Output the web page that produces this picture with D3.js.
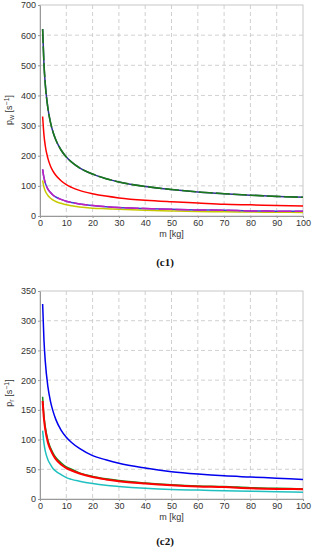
<!DOCTYPE html>
<html>
<head>
<meta charset="utf-8">
<script src="https://cdn.jsdelivr.net/npm/d3@7/dist/d3.min.js"></script>
<style>
  body { margin: 0; background: #fff; }
  svg { display: block; font-family: "Liberation Sans", Arial, sans-serif; }
</style>
</head>
<body>
<svg id="chart" width="315" height="550"></svg>
<script>
const mass = [1, 1.5, 2, 3, 4, 5, 6, 8, 10, 12, 15, 20, 25, 30, 40, 50, 60, 70, 80, 90, 100];
const xTicks = [0, 10, 20, 30, 40, 50, 60, 70, 80, 90, 100];

// (c1) p_w
const c1Green = [620, 506, 438, 358, 310, 277, 253, 219, 196, 179, 160, 139, 124, 113, 98, 88, 80, 74, 69, 65, 62];
const c1Red = [330, 269, 233, 191, 165, 148, 135, 117, 104, 95, 85, 74, 66, 60, 52, 47, 43, 39, 37, 35, 33];
const c1Magenta = [155, 127, 110, 89, 78, 69, 63, 55, 49, 45, 40, 35, 31, 28, 25, 22, 20, 19, 17, 16, 15.5];
const c1Yellow = [118, 96, 83, 68, 59, 53, 48, 42, 37, 34, 30, 26, 24, 22, 19, 17, 15, 14, 13, 12.5, 12];
const c1YTicks = [0, 100, 200, 300, 400, 500, 600, 700];

// (c2) p_r
const c2Blue = [328, 268, 232, 189, 164, 147, 134, 116, 104, 95, 85, 73, 66, 60, 52, 46, 42, 39, 37, 35, 33];
const c2Green = [172, 140, 122, 99, 86, 77, 70, 61, 54, 50, 44, 38, 34, 31, 27, 24, 22, 21, 19, 18, 17];
const c2Red = [165, 135, 117, 95, 83, 74, 67, 58, 52, 48, 43, 37, 33, 30, 26, 23, 21, 20, 18, 17, 16.5];
const c2Cyan = [115, 94, 81, 66, 58, 51, 47, 41, 36, 33, 30, 26, 23, 21, 18, 16, 15, 14, 13, 12, 11.5];
const c2YTicks = [0, 50, 100, 150, 200, 250, 300, 350];

const svg = d3.select("#chart");

function drawPanel(opts) {
  const left = 40, right = 303;
  const x = d3.scaleLinear().domain([0, 100]).range([left, right]);
  const y = d3.scaleLinear().domain([0, opts.yMax]).range([opts.bottom, opts.top]);

  const g = svg.append("g");

  // dashed grid
  g.selectAll(".vgrid")
    .data(xTicks.slice(1, -1))
    .enter()
    .append("line")
    .attr("x1", (d) => x(d))
    .attr("x2", (d) => x(d))
    .attr("y1", opts.top)
    .attr("y2", opts.bottom)
    .attr("stroke", "#c4c4c4")
    .attr("stroke-width", 0.8)
    .attr("stroke-dasharray", "4,3");

  g.selectAll(".hgrid")
    .data(opts.yTicks.slice(1, -1))
    .enter()
    .append("line")
    .attr("x1", left)
    .attr("x2", right)
    .attr("y1", (d) => y(d))
    .attr("y2", (d) => y(d))
    .attr("stroke", "#c4c4c4")
    .attr("stroke-width", 0.8)
    .attr("stroke-dasharray", "4,3");

  // frame
  g.append("rect")
    .attr("x", left)
    .attr("y", opts.top)
    .attr("width", right - left)
    .attr("height", opts.bottom - opts.top)
    .attr("fill", "none")
    .attr("stroke", "#c8c8c8")
    .attr("stroke-width", 1);

  // axes
  const xAxis = d3.axisBottom(x).tickValues(xTicks).tickSize(2).tickSizeOuter(0);
  const gx = g.append("g")
    .attr("transform", `translate(0,${opts.bottom})`)
    .call(xAxis);
  gx.select(".domain").attr("stroke", "#999");
  gx.selectAll(".tick line").attr("stroke", "#999");
  gx.selectAll("text")
    .attr("y", 4)
    .attr("fill", "#333")
    .style("font-size", "9px");

  const yAxis = d3.axisLeft(y).tickValues(opts.yTicks).tickSize(2).tickSizeOuter(0);
  const gy = g.append("g")
    .attr("transform", `translate(${left},0)`)
    .call(yAxis);
  gy.select(".domain").attr("stroke", "#999");
  gy.selectAll(".tick line").attr("stroke", "#999");
  gy.selectAll("text")
    .attr("x", -4)
    .attr("fill", "#333")
    .style("font-size", "9px");

  // curves
  const line = d3.line()
    .x((d, i) => x(mass[i]))
    .y((d) => y(d))
    .curve(d3.curveMonotoneX);

  opts.series.forEach(function (s) {
    g.append("path")
      .datum(s.values)
      .attr("d", line)
      .attr("fill", "none")
      .attr("stroke", s.color)
      .attr("stroke-width", s.width || 1.5)
      .attr("stroke-dasharray", s.dash || null);
  });

  // x label
  g.append("text")
    .attr("x", (left + right) / 2)
    .attr("y", opts.bottom + 21)
    .attr("text-anchor", "middle")
    .attr("fill", "#333")
    .style("font-size", "9px")
    .text("m [kg]");

  // y label with subscript and superscript
  const yl = g.append("text")
    .attr("transform", `translate(12,${opts.labelY}) rotate(-90)`)
    .attr("text-anchor", "middle")
    .attr("fill", "#333")
    .style("font-size", "9px");
  yl.append("tspan").text("p");
  yl.append("tspan").attr("dy", 2).style("font-size", "7px").text(opts.sub);
  yl.append("tspan").attr("dy", -2).text(" [s");
  yl.append("tspan").attr("dy", -3).style("font-size", "7px").text("\u22121");
  yl.append("tspan").attr("dy", 3).text("]");

  // panel caption
  svg.append("text")
    .attr("x", 165)
    .attr("y", opts.captionY)
    .attr("text-anchor", "middle")
    .attr("fill", "#111")
    .style("font-family", "'Liberation Serif', 'Times New Roman', serif")
    .style("font-size", "11px")
    .style("font-weight", "bold")
    .text(opts.caption);
}

drawPanel({
  top: 5,
  bottom: 216,
  yMax: 700,
  yTicks: c1YTicks,
  sub: "w",
  labelY: 110,
  caption: "(c1)",
  captionY: 266,
  series: [
    { values: c1Yellow, color: "#c8c800" },
    { values: c1Magenta, color: "#4040d0" },
    { values: c1Magenta, color: "#c020c0", dash: "14,3" },
    { values: c1Red, color: "#ff0000" },
    { values: c1Green, color: "#303090" },
    { values: c1Green, color: "#1a7a1a", dash: "14,3", width: 1.6 },
  ],
});

drawPanel({
  top: 291,
  bottom: 499,
  yMax: 350,
  yTicks: c2YTicks,
  sub: "r",
  labelY: 393,
  caption: "(c2)",
  captionY: 545,
  series: [
    { values: c2Cyan, color: "#20c0c0" },
    { values: c2Green, color: "#1a8a1a" },
    { values: c2Red, color: "#ff0000", width: 2 },
    { values: c2Blue, color: "#0000ee" },
  ],
});
</script>
</body>
</html>
